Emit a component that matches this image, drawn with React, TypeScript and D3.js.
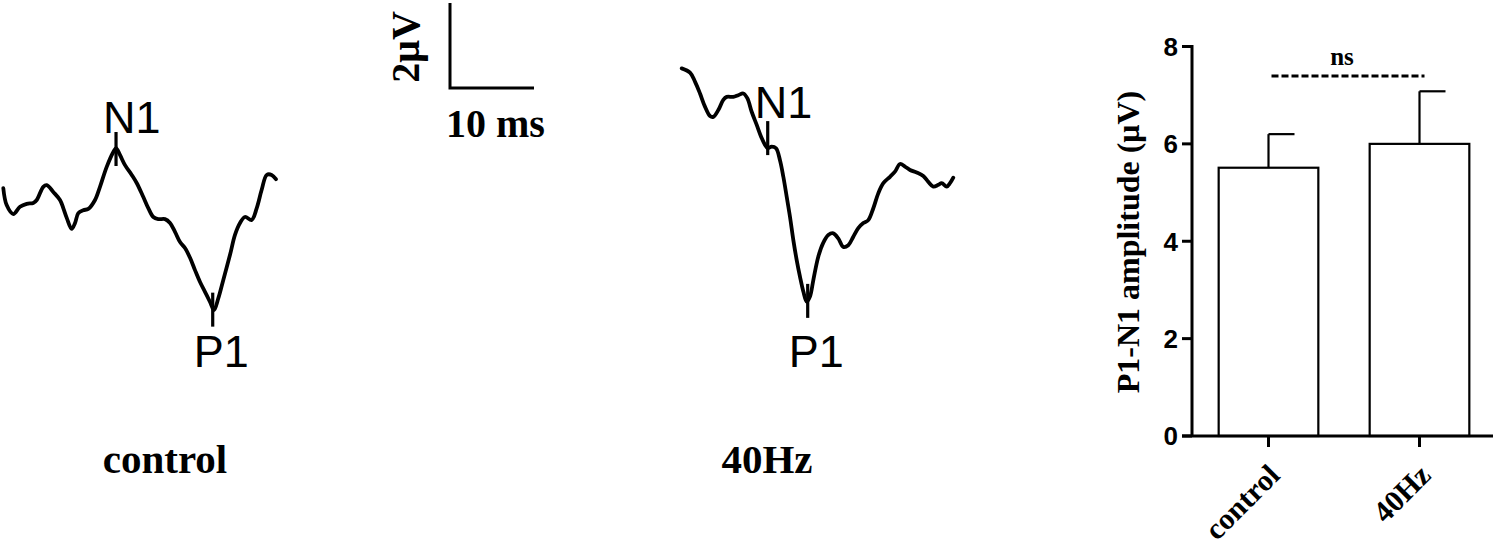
import React from "react";
import * as d3 from "d3";

// ---------- Waveform data (time in ms, amplitude in µV) ----------
const controlTime = [0, 0.4, 1.19, 1.99, 2.79, 3.57, 3.98, 4.76, 5.17, 5.95, 6.75, 7.14, 7.55, 8.14, 8.54, 8.93, 9.52, 10.12, 10.92, 11.51, 12.31, 13.1, 13.42, 13.89, 14.49, 15.29, 15.88, 16.67, 17.26, 17.86, 18.45, 19.25, 19.85, 20.44, 21.04, 21.63, 22.23, 22.82, 23.42, 24.01, 24.61, 25.08, 25.6, 26.19, 26.99, 27.58, 28.18, 28.77, 29.57, 30.17, 30.76, 31.36, 31.95, 32.46];
const controlVolt = [0.28, -0.12, -0.33, -0.16, -0.09, -0.07, 0, 0.31, 0.35, 0.19, 0, -0.19, -0.42, -0.68, -0.54, -0.31, -0.24, -0.21, 0, 0.31, 0.78, 1.13, 1.22, 1.06, 0.82, 0.59, 0.4, 0.07, -0.19, -0.4, -0.45, -0.45, -0.54, -0.75, -0.99, -1.13, -1.36, -1.65, -1.93, -2.16, -2.4, -2.59, -2.31, -1.88, -1.29, -0.82, -0.54, -0.4, -0.47, -0.19, 0.24, 0.59, 0.59, 0.49];

const hz40Time = [0, 0.99, 1.58, 2.18, 2.77, 3.37, 3.76, 4.36, 4.95, 5.36, 6.14, 6.74, 7.33, 7.81, 8.33, 8.93, 9.52, 9.92, 10.24, 10.71, 11.23, 11.7, 12.1, 12.5, 12.89, 13.29, 13.69, 14.08, 14.48, 14.88, 15.27, 15.67, 16.26, 16.86, 17.45, 18.05, 18.64, 19.24, 19.83, 20.43, 21.02, 21.62, 22.21, 22.81, 23.4, 24.0, 24.8, 25.39, 25.99, 26.58, 27.18, 27.98, 28.76, 29.36, 29.95, 30.55, 30.95, 31.55, 31.94, 32.33];
const hz40Volt = [1.92, 1.82, 1.61, 1.33, 1.02, 0.8, 0.78, 0.94, 1.18, 1.25, 1.25, 1.29, 1.33, 1.22, 0.9, 0.59, 0.28, 0.12, 0.04, 0.08, 0.04, -0.24, -0.63, -1.1, -1.57, -2.12, -2.59, -2.98, -3.33, -3.57, -3.45, -3.06, -2.51, -2.18, -2.0, -1.96, -2.08, -2.28, -2.24, -2.04, -1.84, -1.72, -1.65, -1.37, -1.02, -0.78, -0.63, -0.51, -0.33, -0.39, -0.47, -0.53, -0.61, -0.75, -0.86, -0.82, -0.78, -0.86, -0.78, -0.65];

// peak markers [latency ms, amplitude µV]
const controlN1 = [13.42, 1.2];
const controlP1 = [24.93, -2.58];
const hz40N1 = [10.24, 0.28];
const hz40P1 = [15.0, -3.55];
const peakNames = ["N1", "P1"];
const traceNames = ["control", "40Hz"];

// scale bar
const scaleBarMs = 10;
const scaleBarUv = 2;
const scaleBarLabels = ["10 ms", "2μV"];

// ---------- Bar chart data ----------
const barCategories = ["control", "40Hz"];
const barMeans = [5.51, 6.0];
const barSem = [0.69, 1.08];
const yTicks = [0, 2, 4, 6, 8];
const yLabel = "P1-N1 amplitude (μV)";
const sigLabel = "ns";

const SERIF = "'Liberation Serif', 'Times New Roman', serif";
const SANS = "'Liberation Sans', Arial, sans-serif";

const PX_PER_MS = 8.4;
const PX_PER_UV = 42.5;

function makeScales(x0: number, y0: number) {
  const x = d3.scaleLinear().domain([0, 1]).range([x0, x0 + PX_PER_MS]);
  const y = d3.scaleLinear().domain([0, 1]).range([y0, y0 - PX_PER_UV]);
  return { x, y };
}

function Trace({ time, volt, n1, p1, x0, y0, n1dy, p1Base }: any) {
  const { x, y } = makeScales(x0, y0);
  const pts: [number, number][] = time.map((t: number, i: number) => [t, volt[i]]);
  const line = d3
    .line<[number, number]>()
    .x((d) => x(d[0]))
    .y((d) => y(d[1]))
    .curve(d3.curveCatmullRom.alpha(0.5));
  const half = 0.4;
  const n1x = x(n1[0]);
  const n1top = y(n1[1] + half);
  const p1x = x(p1[0]);
  return (
    <g>
      <path d={line(pts) || ""} fill="none" stroke="#000" strokeWidth={3.8} strokeLinejoin="round" strokeLinecap="round" />
      <line x1={n1x} x2={n1x} y1={y(n1[1] + half)} y2={y(n1[1] - half)} stroke="#000" strokeWidth={3.2} />
      <line x1={p1x} x2={p1x} y1={y(p1[1] + half)} y2={y(p1[1] - half)} stroke="#000" strokeWidth={3.2} />
      <text x={n1x - 13} y={n1top + n1dy} fontFamily={SANS} fontSize={45}>{peakNames[0]}</text>
      <text x={p1x - 19} y={p1Base} fontFamily={SANS} fontSize={45}>{peakNames[1]}</text>
    </g>
  );
}

export default function App() {
  const sb = makeScales(450, 88);
  const yB = d3.scaleLinear().domain([0, 8]).range([436, 46.5]);
  const xB = d3.scaleBand<string>().domain(barCategories).range([1193, 1495]).paddingInner(0.34).paddingOuter(0.17);
  const axisX = 1192;
  const bw = xB.bandwidth();
  const c0 = (xB(barCategories[0]) as number) + bw / 2;
  const c1 = (xB(barCategories[1]) as number) + bw / 2;

  return (
    <svg width={1500} height={550} style={{ position: "absolute", left: 0, top: 0, background: "#fff" }}>
      <rect x={0} y={0} width={1500} height={550} fill="#fff" />
      <Trace time={controlTime} volt={controlVolt} n1={controlN1} p1={controlP1} x0={3.3} y0={200} n1dy={1} p1Base={367} />
      <Trace time={hz40Time} volt={hz40Volt} n1={hz40N1} p1={hz40P1} x0={681.7} y0={150} n1dy={-3} p1Base={367} />

      <text x={165} y={473} textAnchor="middle" fontFamily={SERIF} fontWeight="bold" fontSize={41}>{traceNames[0]}</text>
      <text x={767} y={473} textAnchor="middle" fontFamily={SERIF} fontWeight="bold" fontSize={41}>{traceNames[1]}</text>

      {/* scale bar */}
      <path
        d={`M${sb.x(0)},${sb.y(scaleBarUv)} L${sb.x(0)},${sb.y(0)} L${sb.x(scaleBarMs)},${sb.y(0)}`}
        fill="none"
        stroke="#000"
        strokeWidth={3}
      />
      <text x={446} y={137} fontFamily={SERIF} fontWeight="bold" fontSize={40}>{scaleBarLabels[0]}</text>
      <text transform={`translate(419,47) rotate(-90)`} textAnchor="middle" fontFamily={SERIF} fontWeight="bold" fontSize={40}>{scaleBarLabels[1]}</text>

      {/* bar chart */}
      {barCategories.map((c, i) => {
        const bx = xB(c) as number;
        const cx = bx + bw / 2;
        return (
          <g key={c}>
            <line x1={cx} x2={cx} y1={yB(barMeans[i])} y2={yB(barMeans[i] + barSem[i])} stroke="#000" strokeWidth={2.2} />
            <line x1={cx} x2={cx + 26} y1={yB(barMeans[i] + barSem[i])} y2={yB(barMeans[i] + barSem[i])} stroke="#000" strokeWidth={2.2} />
            <rect x={bx} y={yB(barMeans[i])} width={bw} height={yB(0) - yB(barMeans[i])} fill="#fff" stroke="#000" strokeWidth={2.2} />
            <line x1={cx} x2={cx} y1={yB(0)} y2={yB(0) + 11} stroke="#000" strokeWidth={3} />
            <text
              transform={`translate(${cx + 13},${yB(0) + 41}) rotate(-45)`}
              textAnchor="end"
              fontFamily={SERIF}
              fontWeight="bold"
              fontSize={30}
            >
              {c}
            </text>
          </g>
        );
      })}
      <line x1={axisX} x2={axisX} y1={yB(8) - 1.5} y2={yB(0)} stroke="#000" strokeWidth={3} />
      <line x1={axisX - 10} x2={1493} y1={yB(0)} y2={yB(0)} stroke="#000" strokeWidth={3} />
      {yTicks.map((t) => (
        <g key={t}>
          <line x1={axisX - 10} x2={axisX} y1={yB(t)} y2={yB(t)} stroke="#000" strokeWidth={3} />
          <text x={axisX - 14} y={yB(t)} dy="0.36em" textAnchor="end" fontFamily={SANS} fontWeight="bold" fontSize={26}>{t}</text>
        </g>
      ))}
      <text transform={`translate(1139,242) rotate(-90)`} textAnchor="middle" fontFamily={SERIF} fontWeight="bold" fontSize={32}>{yLabel}</text>
      <line x1={c0 + 3} x2={c1 + 5} y1={76} y2={76} stroke="#000" strokeWidth={3} strokeDasharray="7 3" />
      <text x={(c0 + c1) / 2 - 2} y={65} textAnchor="middle" fontFamily={SERIF} fontWeight="bold" fontSize={25}>{sigLabel}</text>
    </svg>
  );
}
